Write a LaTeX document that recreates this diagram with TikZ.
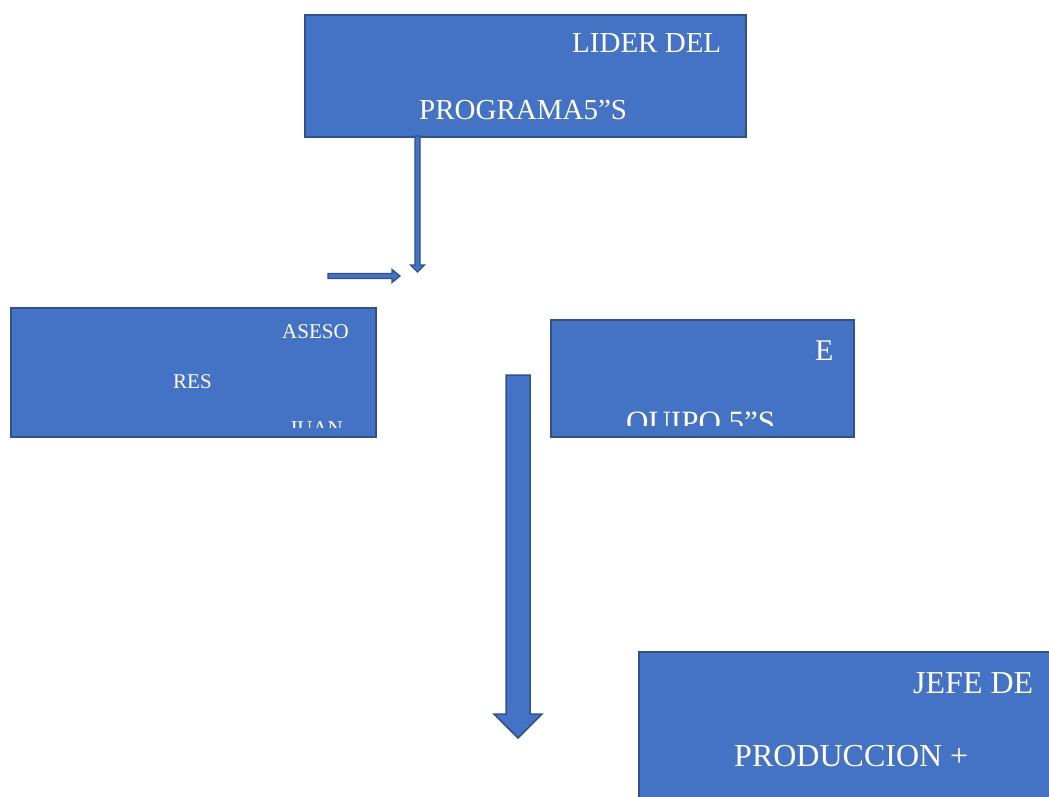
\documentclass[tikz,border=0pt]{standalone}
\usepackage{fontspec}
\setmainfont{Liberation Serif}
\usetikzlibrary{positioning}
\definecolor{cajaazul}{HTML}{4472C4}
\definecolor{bordeazul}{HTML}{2F528F}

\begin{document}
\begin{tikzpicture}
  [
    x = 1pt, y = -1pt,
    caja/.style = { draw = bordeazul, fill = cajaazul, line width = 1.5pt, anchor = north west, inner sep = 0pt },
    texto/.style = { text = white, anchor = base west, inner sep = 0pt, font = \fontsize{29}{35}\selectfont },
    chico/.style = { texto, font = \fontsize{21}{25}\selectfont },
    flecha/.style = { draw = bordeazul, fill = cajaazul, line width = 1.3pt, line join = miter }
  ]
    \clip (0,0) rectangle (1049,796);
    \fill [white] (0,0) rectangle (1049,796);

    % cajas
    \node (lider) [caja, minimum width = 441pt, minimum height = 122pt] at (304,14) {};
    \node (asesores) [caja, minimum width = 365pt, minimum height = 129pt] at (10,307) {};
    \node (equipo) [caja, minimum width = 303pt, minimum height = 117pt] at (550,319) {};
    \node (jefe) [caja, minimum width = 440pt, minimum height = 170pt] at (638,651) {};

    % textos
    \node (lider-a) [texto] at (572,52) {LIDER DEL};
    \node (lider-b) [texto] at (419,119) {PROGRAMA5”S};
    \node (asesores-a) [chico] at (282,338) {ASESO};
    \node (asesores-b) [chico] at (173,388) {RES};
    \begin{scope}
      \clip (10,307) rectangle (375,427);
      \node (asesores-c) [chico] at (289,435) {JUAN};
    \end{scope}
    \node (equipo-a) [texto, font = \fontsize{30}{36}\selectfont] at (815,360) {E};
    \begin{scope}
      \clip (550,319) rectangle (853,425);
      \node (equipo-b) [texto, font = \fontsize{31}{37}\selectfont] at (626,432) {QUIPO 5”S};
    \end{scope}
    \node (jefe-a) [texto, font = \fontsize{32}{38}\selectfont] at (913,693) {JEFE DE};
    \node (jefe-b) [texto, font = \fontsize{32}{38}\selectfont] at (734,766) {PRODUCCION +};

    % flechas
    \coordinate (baja) at (417.5,136);
    \draw [flecha] (baja) ++(-2.5,0) -- ++(5,0) -- ++(0,129) -- ++(4.5,0)
      -- ++(-7,7) -- ++(-7,-7) -- ++(4.5,0) -- cycle;
    \coordinate (lado) at (328,276);
    \draw [flecha] (lado) ++(0,-2.5) -- ++(64,0) -- ++(0,-4) -- ++(8,6.5)
      -- ++(-8,6.5) -- ++(0,-4) -- ++(-64,0) -- cycle;
    \coordinate (centro) at (518,375);
    \draw [flecha, line width = 1.5pt] (centro) ++(-12,0) -- ++(24,0) -- ++(0,339) -- ++(12,0)
      -- ++(-24,24) -- ++(-24,-24) -- ++(12,0) -- cycle;
  \end{tikzpicture}
\end{document}
